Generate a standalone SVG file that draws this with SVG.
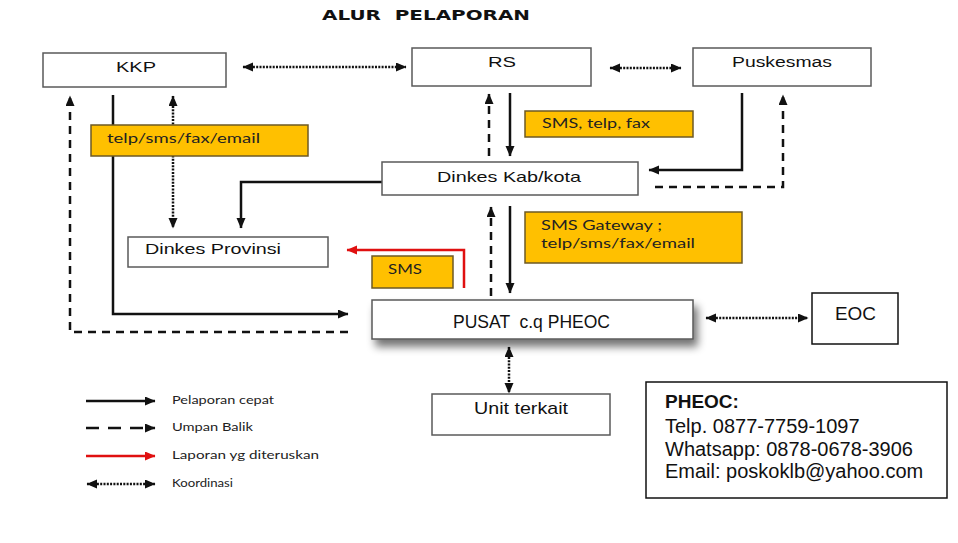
<svg xmlns="http://www.w3.org/2000/svg" width="958" height="543" viewBox="0 0 958 543">
  <style>
    .node { fill: #ffffff; stroke: #5a5a5a; stroke-width: 1.5; }
    .node2 { fill: #ffffff; stroke: #111111; stroke-width: 1.5; }
    .tag { fill: #FFC000; stroke: #6e5a24; stroke-width: 1.5; }
    .nt { font-family: "Liberation Sans", Arial, sans-serif; fill: #111111; }
    .lt { font-family: Lato, "Open Sans", sans-serif; fill: #222222; font-size: 13px; }
    .lg { font-family: Lato, "Open Sans", sans-serif; fill: #222222; font-size: 11px; }
    .solid { fill: none; stroke: #111111; stroke-width: 2.5; }
    .dash { fill: none; stroke: #111111; stroke-width: 2.5; stroke-dasharray: 8 6; }
    .dot { fill: none; stroke: #111111; stroke-width: 2.5; stroke-dasharray: 2 1.3; }
    .red { fill: none; stroke: #e01010; stroke-width: 2.5; }
  </style>
  <defs>
    <marker id="ah" markerUnits="userSpaceOnUse" markerWidth="11" markerHeight="10" refX="10" refY="4.5" orient="auto-start-reverse">
      <path d="M0,0 L10.5,4.5 L0,9 z" fill="#111111"/>
    </marker>
    <marker id="ahr" markerUnits="userSpaceOnUse" markerWidth="11" markerHeight="10" refX="10" refY="4.5" orient="auto">
      <path d="M0,0 L10.5,4.5 L0,9 z" fill="#e01010"/>
    </marker>
    <filter id="sh" x="-10%" y="-30%" width="125%" height="180%">
      <feGaussianBlur in="SourceAlpha" stdDeviation="4"/>
      <feOffset dx="4" dy="7" result="b"/>
      <feComponentTransfer><feFuncA type="linear" slope="0.55"/></feComponentTransfer>
      <feMerge><feMergeNode/><feMergeNode in="SourceGraphic"/></feMerge>
    </filter>
  </defs>
  <rect width="958" height="543" fill="#ffffff"/>

  <text x="322" y="20" font-family="'DejaVu Sans', sans-serif" font-weight="bold" font-size="13.5" textLength="208" lengthAdjust="spacingAndGlyphs" fill="#111" style="white-space:pre">ALUR  PELAPORAN</text>

  <g id="connectors">
    <line class="dot" x1="243" y1="67" x2="406" y2="67" marker-start="url(#ah)" marker-end="url(#ah)"/>
    <line class="dot" x1="610" y1="68" x2="681" y2="68" marker-start="url(#ah)" marker-end="url(#ah)"/>
    <line class="dash" x1="489" y1="156" x2="489" y2="94" marker-end="url(#ah)"/>
    <line class="solid" x1="510" y1="93" x2="510" y2="156" marker-end="url(#ah)"/>
    <path class="solid" d="M742 93 V170 H649" marker-end="url(#ah)"/>
    <path class="dash" d="M655 187 H783 V95" marker-end="url(#ah)"/>
    <path class="solid" d="M382 182 H241 V228" marker-end="url(#ah)"/>
    <line class="dot" x1="173" y1="96" x2="173" y2="228" marker-start="url(#ah)" marker-end="url(#ah)"/>
    <path class="dash" d="M348 332 H70 V96" marker-end="url(#ah)"/>
    <path class="solid" d="M113 95 V314 H348" marker-end="url(#ah)"/>
    <path class="red" d="M464 288 V250 H347" marker-end="url(#ahr)"/>
    <line class="dash" x1="491" y1="296" x2="491" y2="207" marker-end="url(#ah)"/>
    <line class="solid" x1="510" y1="206" x2="510" y2="293" marker-end="url(#ah)"/>
    <line class="dot" x1="706" y1="318" x2="808" y2="318" marker-start="url(#ah)" marker-end="url(#ah)"/>
    <line class="dot" x1="509" y1="347" x2="509" y2="393" marker-start="url(#ah)" marker-end="url(#ah)"/>
  </g>

  <g id="kkp">
    <rect class="node" x="43" y="53" width="183" height="34"/>
    <text class="nt" x="116" y="72" font-size="14" textLength="40" lengthAdjust="spacingAndGlyphs">KKP</text>
  </g>
  <g id="rs">
    <rect class="node" x="412" y="48" width="179" height="38"/>
    <text class="nt" x="488" y="67" font-size="14" textLength="28" lengthAdjust="spacingAndGlyphs">RS</text>
  </g>
  <g id="puskesmas">
    <rect class="node" x="693" y="48" width="178" height="38"/>
    <text class="nt" x="732" y="67" font-size="14" textLength="100" lengthAdjust="spacingAndGlyphs">Puskesmas</text>
  </g>
  <g id="dinkes-kab">
    <rect class="node" x="382" y="162" width="256" height="33"/>
    <text class="nt" x="437" y="182" font-size="15" textLength="144" lengthAdjust="spacingAndGlyphs">Dinkes Kab/kota</text>
  </g>
  <g id="dinkes-prov">
    <rect class="node" x="128" y="237" width="200" height="30"/>
    <text class="nt" x="145" y="254" font-size="15" textLength="136" lengthAdjust="spacingAndGlyphs">Dinkes Provinsi</text>
  </g>
  <g id="pusat">
    <rect class="node" x="372" y="300" width="321" height="39" filter="url(#sh)"/>
    <text class="nt" x="453" y="328" font-size="19" textLength="157" lengthAdjust="spacingAndGlyphs" style="white-space:pre">PUSAT  c.q PHEOC</text>
  </g>
  <g id="eoc">
    <rect class="node2" x="812" y="293" width="86" height="51"/>
    <text class="nt" x="835" y="320" font-size="19" textLength="41" lengthAdjust="spacingAndGlyphs">EOC</text>
  </g>
  <g id="unit-terkait">
    <rect class="node" x="432" y="394" width="178" height="41"/>
    <text class="nt" x="474" y="414" font-size="17" textLength="94" lengthAdjust="spacingAndGlyphs">Unit terkait</text>
  </g>

  <g id="label-kkp">
    <rect class="tag" x="91" y="125" width="217" height="31"/>
    <text class="lt" x="107" y="143" textLength="153" lengthAdjust="spacingAndGlyphs">telp/sms/fax/email</text>
  </g>
  <g id="label-rs">
    <rect class="tag" x="525" y="111" width="168" height="26"/>
    <text class="lt" x="542" y="128" textLength="108" lengthAdjust="spacingAndGlyphs">SMS, telp, fax</text>
  </g>
  <g id="label-gateway">
    <rect class="tag" x="525" y="212" width="217" height="51"/>
    <text class="lt" x="541" y="230" textLength="121" lengthAdjust="spacingAndGlyphs">SMS Gateway ;</text>
    <text class="lt" x="541" y="248" textLength="154" lengthAdjust="spacingAndGlyphs">telp/sms/fax/email</text>
  </g>
  <g id="label-sms">
    <rect class="tag" x="372" y="256" width="81" height="32"/>
    <text class="lt" x="388" y="274" textLength="34" lengthAdjust="spacingAndGlyphs">SMS</text>
  </g>

  <g id="legend">
    <line class="solid" x1="86" y1="401" x2="155" y2="401" marker-end="url(#ah)"/>
    <text class="lg" x="172" y="404" textLength="102" lengthAdjust="spacingAndGlyphs">Pelaporan cepat</text>
    <line class="dash" x1="86" y1="428" x2="155" y2="428" style="stroke-dasharray:13 9" marker-end="url(#ah)"/>
    <text class="lg" x="172" y="431" textLength="81" lengthAdjust="spacingAndGlyphs">Umpan Balik</text>
    <line class="red" x1="86" y1="456" x2="155" y2="456" marker-end="url(#ahr)"/>
    <text class="lg" x="172" y="459" textLength="147" lengthAdjust="spacingAndGlyphs">Laporan yg diteruskan</text>
    <line class="dot" x1="87" y1="484" x2="155" y2="484" marker-start="url(#ah)" marker-end="url(#ah)"/>
    <text class="lg" x="172" y="487" textLength="61" lengthAdjust="spacingAndGlyphs">Koordinasi</text>
  </g>

  <g id="pheoc-info">
    <rect class="node2" x="646" y="382" width="301" height="116"/>
    <text class="nt" x="665" y="408" font-size="19" font-weight="bold">PHEOC:</text>
    <text class="nt" x="665" y="433" font-size="20">Telp. 0877-7759-1097</text>
    <text class="nt" x="665" y="456" font-size="20">Whatsapp: 0878-0678-3906</text>
    <text class="nt" x="665" y="478" font-size="20">Email: poskoklb@yahoo.com</text>
  </g>
</svg>
